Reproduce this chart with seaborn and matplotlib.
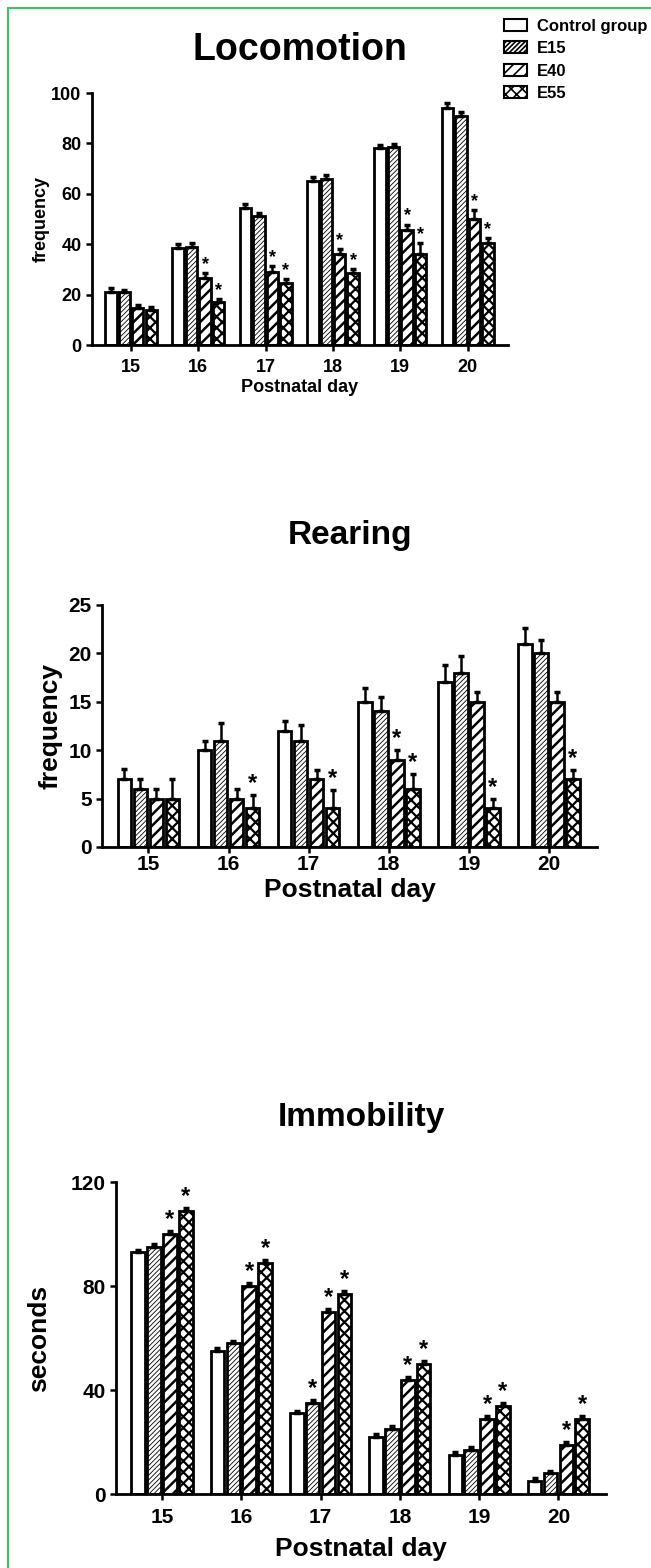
import numpy as np
import pandas as pd
import matplotlib
matplotlib.use('Agg')
import matplotlib.pyplot as plt
import matplotlib.patches as mpatches
from matplotlib.container import BarContainer
from matplotlib.lines import Line2D
import seaborn as sns

# Data.
days = ['15', '16', '17', '18', '19', '20']
groups = ['Control group', 'E15', 'E40', 'E55']

loco_mean = [[21, 38.5, 54.5, 65, 78, 94],
             [21, 39, 51, 66, 78.5, 91],
             [14.5, 26.5, 29, 36, 45.5, 50],
             [14, 17, 24.5, 28.5, 36, 40.5]]
loco_err = [[1.5, 1.5, 1.5, 1.5, 1.2, 2],
            [1, 1.5, 1.5, 1.5, 1.3, 1.5],
            [1.5, 2, 2.5, 2, 2.3, 3.5],
            [1, 1.3, 1.7, 1.8, 4.5, 2]]
loco_star = [[0, 0, 0, 0, 0, 0],
             [0, 0, 0, 0, 0, 0],
             [0, 1, 1, 1, 1, 1],
             [0, 1, 1, 1, 1, 1]]

rear_mean = [[7, 10, 12, 15, 17, 21],
             [6, 11, 11, 14, 18, 20],
             [5, 5, 7, 9, 15, 15],
             [5, 4, 4, 6, 4, 7]]
rear_err = [[1.1, 1, 1, 1.4, 1.8, 1.6],
            [1, 1.8, 1.6, 1.5, 1.7, 1.4],
            [1, 1, 1, 1, 1, 1],
            [2, 1.4, 1.9, 1.5, 1, 1]]
rear_star = [[0, 0, 0, 0, 0, 0],
             [0, 0, 0, 0, 0, 0],
             [0, 0, 0, 1, 0, 0],
             [0, 1, 1, 1, 1, 1]]

immo_mean = [[93, 55, 31, 22, 15, 5],
             [95, 58, 35, 25, 17, 8],
             [100, 80, 70, 44, 29, 19],
             [109, 89, 77, 50, 34, 29]]
immo_err = [[1, 1, 1, 1, 1, 1],
            [1, 1, 1, 1, 1, 1],
            [1, 1, 1, 1, 1, 1],
            [1, 1, 1, 1, 1, 1]]
immo_star = [[0, 0, 0, 0, 0, 0],
             [0, 0, 1, 0, 0, 0],
             [1, 1, 1, 1, 1, 1],
             [1, 1, 1, 1, 1, 1]]

hatches = ['', '/' * 7, '///', 'xxx']
hatch_lw = [1, 0.6, 1.8, 1.6]

sns.set_style('ticks')
plt.rcParams['font.family'] = ['Liberation Sans', 'DejaVu Sans']
plt.rcParams['font.weight'] = 'bold'
plt.rcParams['hatch.linewidth'] = 1.2
for key in ['text.color', 'axes.labelcolor', 'xtick.color', 'ytick.color',
            'axes.edgecolor']:
    plt.rcParams[key] = 'black'

fig = plt.figure(figsize=(6.51, 15.68), dpi=100)


def draw_panel(ax, means, errs, stars, title, ylabel, yticks, ylim,
               tick_fs, label_fs, title_fs, star_fs, title_pad,
               xtick_pad, xlabel_pad, ylabel_pad):
    rows = []
    for g, grp in enumerate(groups):
        for d, day in enumerate(days):
            rows.append({'day': day, 'group': grp, 'value': means[g][d]})
    df = pd.DataFrame(rows)
    sns.barplot(data=df, x='day', y='value', hue='group', order=days,
                hue_order=groups, palette=['white'] * 4, edgecolor='black',
                linewidth=2, errorbar=None, gap=0.15, legend=False, ax=ax)
    bar_sets = [c for c in ax.containers if isinstance(c, BarContainer)]
    for g, cont in enumerate(bar_sets):
        xs, tops = [], []
        for d, bar in enumerate(cont):
            bar.set_hatch(hatches[g])
            if hasattr(bar, 'set_hatch_linewidth'):
                bar.set_hatch_linewidth(hatch_lw[g])
            xs.append(bar.get_x() + bar.get_width() / 2)
            tops.append(bar.get_height())
        ax.errorbar(xs, tops, yerr=[np.zeros(len(xs)), errs[g]], fmt='none',
                    ecolor='black', elinewidth=1.8, capsize=2.5,
                    capthick=2.5, zorder=5)
        for d in range(len(xs)):
            if stars[g][d]:
                ax.text(xs[d], tops[d] + errs[g][d], '*', ha='center',
                        va='bottom', fontsize=star_fs, fontweight='bold')
    ax.set_ylim(*ylim)
    ax.set_xlim(-0.58, 5.6)
    ax.set_yticks(yticks)
    ax.set_title(title, fontsize=title_fs, fontweight='bold', pad=title_pad)
    ax.set_ylabel(ylabel, fontsize=label_fs, fontweight='bold',
                  labelpad=ylabel_pad)
    ax.set_xlabel('Postnatal day', fontsize=label_fs, fontweight='bold',
                  labelpad=xlabel_pad)
    ax.tick_params(axis='both', labelsize=tick_fs, width=1.8, length=4,
                   direction='out')
    ax.tick_params(axis='x', pad=xtick_pad)
    for lab in ax.get_xticklabels() + ax.get_yticklabels():
        lab.set_fontweight('bold')
    sns.despine(ax=ax)
    for side in ['left', 'bottom']:
        ax.spines[side].set_linewidth(2)


W, H = 651.0, 1568.0

ax1 = fig.add_axes([92 / W, 1 - 345 / H, 416 / W, 252 / H])
draw_panel(ax1, loco_mean, loco_err, loco_star, 'Locomotion', 'frequency',
           [0, 20, 40, 60, 80, 100], (0, 100), 13, 13, 27, 13, 24,
           6, 2, 1)

ax2 = fig.add_axes([102 / W, 1 - 847 / H, 495 / W, 242 / H])
draw_panel(ax2, rear_mean, rear_err, rear_star, 'Rearing', 'frequency',
           [0, 5, 10, 15, 20, 25], (0, 25), 15, 19, 24, 17, 44,
           2, 3, 4)

ax3 = fig.add_axes([116 / W, 1 - 1494 / H, 490 / W, 312 / H])
draw_panel(ax3, immo_mean, immo_err, immo_star, 'Immobility', 'seconds',
           [0, 40, 80, 120], (0, 120), 15, 19, 24, 17, 40,
           6, 7, 14)

# Legend at the top right.
handles = [mpatches.Patch(facecolor='white', edgecolor='black',
                          hatch=hatches[g], linewidth=1.5, label=grp)
           for g, grp in enumerate(groups)]
fig.legend(handles=handles, loc='upper left',
           bbox_to_anchor=(497 / W, 1 - 12 / H), frameon=False,
           prop={'weight': 'bold', 'size': 12}, handlelength=1.4,
           handleheight=0.75, labelspacing=0.45, handletextpad=0.6,
           borderaxespad=0)

# Green frame lines on the top and left edges.
green = '#4dbb6d'
fig.add_artist(Line2D([8 / W, 8 / W], [0, 1 - 8 / H], color=green, lw=1.6))
fig.add_artist(Line2D([8 / W, 1], [1 - 8 / H, 1 - 8 / H], color=green, lw=1.6))

fig.savefig('out.png', dpi=100)
